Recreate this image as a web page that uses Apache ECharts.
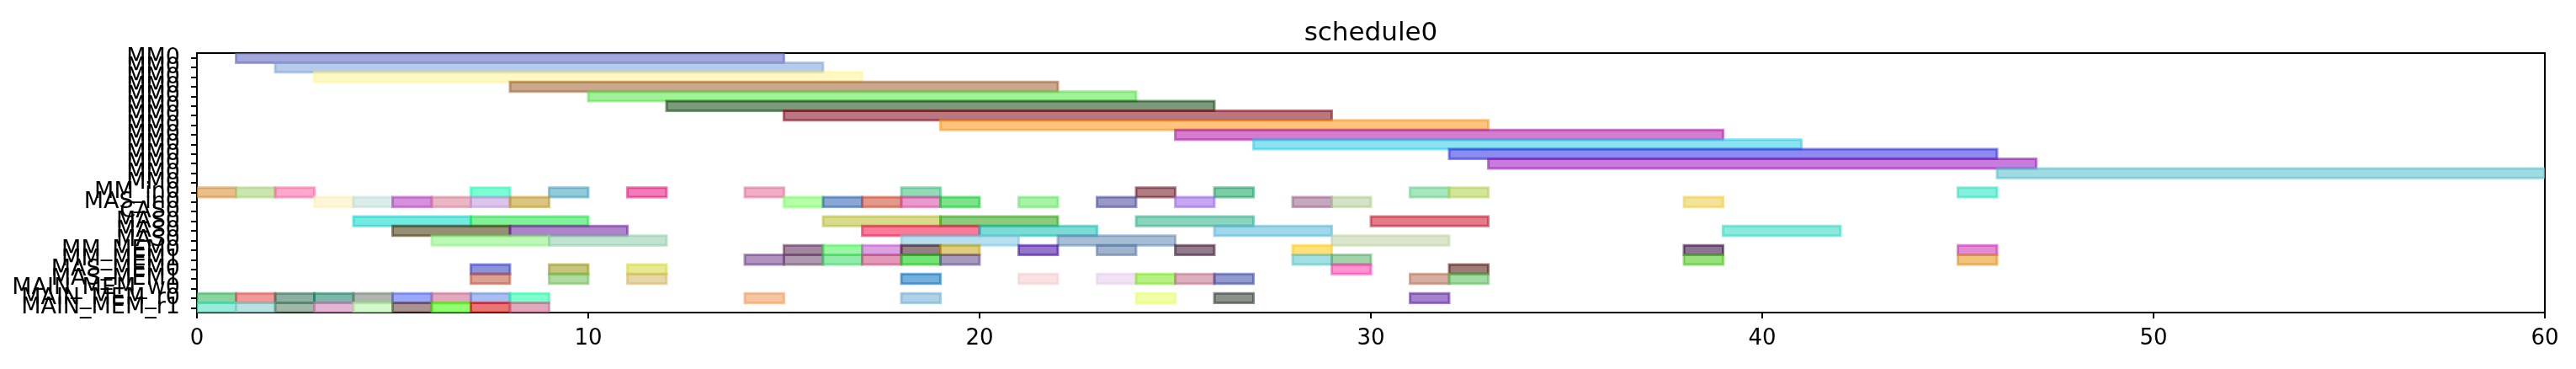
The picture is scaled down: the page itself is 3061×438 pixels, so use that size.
<!DOCTYPE html>
<html>
<head>
<meta charset="utf-8">
<script src="https://cdn.jsdelivr.net/npm/echarts@6/dist/echarts.min.js"></script>
<style>
  html, body { margin: 0; padding: 0; background: #fff; }
  #chart { width: 3061px; height: 438px; }
</style>
</head>
<body>
<div id="chart"></div>
<script>
// y tick labels, top row first
const rowLabels = [
  'MM0', 'MM0', 'MM0', 'MM0', 'MM0', 'MM0', 'MM0', 'MM0', 'MM0', 'MM0', 'MM0', 'MM0', 'MM0', 'MM0',
  'MM_in0', 'MAS_in0', 'CAS0', 'MAS0', 'MAS0', 'MAS0',
  'MM_MEM0', 'MM_MEM1', 'MAS_MEM0', 'MAS_MEM1',
  'MAIN_MEM_w0', 'MAIN_MEM_r0', 'MAIN_MEM_r1'
];
const xTicks = [0, 10, 20, 30, 40, 50, 60];

// task start / end times, one list per row
const taskStart = [
  [1], [2], [3], [8], [10], [12], [15], [19], [25], [27], [32], [33], [46], [],
  [0, 1, 2, 7, 9, 11, 14, 18, 24, 26, 31, 32, 45],
  [3, 4, 5, 6, 7, 8, 15, 16, 17, 18, 19, 21, 23, 25, 28, 29, 38],
  [],
  [4, 7, 16, 19, 24, 30],
  [5, 8, 17, 20, 26, 39],
  [6, 9, 18, 22, 29],
  [15, 16, 17, 18, 19, 21, 23, 25, 28, 38, 45],
  [14, 15, 16, 17, 18, 19, 28, 29, 38, 45],
  [7, 9, 11, 29, 32],
  [7, 9, 11, 18, 21, 23, 24, 25, 26, 31, 32],
  [],
  [0, 1, 2, 3, 4, 5, 6, 7, 8, 14, 18, 24, 26, 31],
  [0, 1, 2, 3, 4, 5, 6, 7, 8]
];
const taskEnd = [
  [15], [16], [17], [22], [24], [26], [29], [33], [39], [41], [46], [47], [60], [],
  [1, 2, 3, 8, 10, 12, 15, 19, 25, 27, 32, 33, 46],
  [4, 5, 6, 7, 8, 9, 16, 17, 18, 19, 20, 22, 24, 26, 29, 30, 39],
  [],
  [7, 10, 19, 22, 27, 33],
  [8, 11, 20, 23, 29, 42],
  [9, 12, 21, 25, 32],
  [16, 17, 18, 19, 20, 22, 24, 26, 29, 39, 46],
  [15, 16, 17, 18, 19, 20, 29, 30, 39, 46],
  [8, 10, 12, 30, 33],
  [8, 10, 12, 19, 22, 24, 25, 26, 27, 32, 33],
  [],
  [1, 2, 3, 4, 5, 6, 7, 8, 9, 15, 19, 25, 27, 32],
  [1, 2, 3, 4, 5, 6, 7, 8, 9]
];

// bar colours (drawn half transparent), same layout as above
const taskColor = [
  ['#5a61bf'], ['#7ba3d9'], ['#fff396'], ['#9d6132'], ['#53e646'], ['#114611'], ['#800a1a'],
  ['#ff9611'], ['#b510a8'], ['#2bcbe6'], ['#2b2be6'], ['#9a10c0'], ['#53becb'], [],
  ['#d98a2b', '#a3d26e', '#ff61a3', '#11ffb1', '#39a3be', '#e6117b', '#e66b97', '#39be7b', '#6e111e', '#11a361', '#61d289', '#b1d246', '#1ee6be'],
  ['#fceeb9', '#bedcd9', '#b139be', '#d97b96', '#be96d9', '#be961e', '#7bff61', '#2b61b1', '#cb462b', '#d946a3', '#11cb2b', '#61e661', '#464696', '#9661e6', '#966189', '#b1cb96', '#edcb46'],
  [],
  ['#03d9cb', '#1ee646', '#b7be2b', '#2ba311', '#2bb189', '#cb112b'],
  ['#3f3203', '#6e1ea3', '#f31146', '#11beb1', '#53b7d9', '#2bd9be'],
  ['#89f37b', '#8fcbaa', '#7bc5df', '#6189b1', '#bed2a3'],
  ['#5a2553', '#46f353', '#be53cb', '#3f171e', '#c5a311', '#3f03a3', '#5375a3', '#39112b', '#ffcb11', '#2b0339', '#cb2bb1'],
  ['#6e3989', '#6e466e', '#39d961', '#cb467b', '#03cb03', '#614689', '#53c5cb', '#53b161', '#46c511', '#e68f11'],
  ['#2b39be', '#969611', '#d2d939', '#ff39aa', '#4d1103'],
  ['#be5339', '#6ebe53', '#d2b761', '#036ebe', '#f3cbcb', '#e6cbed', '#7be61e', '#be6e89', '#3946a3', '#b76e53', '#53be53'],
  [],
  ['#2bb153', '#e64646', '#2b6e53', '#117b61', '#6e7b6e', '#4661f3', '#cb6189', '#6189e6', '#11ffa3', '#f39653', '#6eaad2', '#e6ff61', '#2b392b', '#5a1ea3'],
  ['#46d9be', '#7bcbcb', '#537b61', '#cb7bb1', '#b1f3a3', '#613939', '#39ff00', '#d90303', '#cb6189']
];

function rgba(hex, a) {
  const n = parseInt(hex.slice(1), 16);
  return 'rgba(' + (n >> 16) + ',' + ((n >> 8) & 255) + ',' + (n & 255) + ',' + a + ')';
}

const taskData = [];
const barColors = [];
taskStart.forEach(function (starts, row) {
  starts.forEach(function (s, i) {
    taskData.push([row, s, taskEnd[row][i]]);
    barColors.push(taskColor[row][i]);
  });
});

const font = 'DejaVu Sans';
const chart = echarts.init(document.getElementById('chart'));

chart.setOption({
  animation: false,
  backgroundColor: '#fff',
  title: {
    text: 'schedule0',
    left: 1629,
    top: 24,
    textAlign: 'center',
    padding: 0,
    textStyle: { fontFamily: font, fontSize: 31, fontWeight: 'normal', color: '#000' }
  },
  grid: {
    left: 234, right: 37, top: 63, bottom: 67,
    show: true, borderColor: '#000', borderWidth: 2, backgroundColor: 'transparent'
  },
  xAxis: {
    type: 'value',
    min: xTicks[0],
    max: xTicks[xTicks.length - 1],
    interval: 10,
    splitLine: { show: false },
    axisLine: { show: true, lineStyle: { color: '#000', width: 2 } },
    axisTick: { show: true, length: 7, lineStyle: { color: '#000', width: 2 } },
    axisLabel: {
      fontFamily: font, fontSize: 26, color: '#000', margin: 18,
      showMinLabel: true, showMaxLabel: true,
      customValues: xTicks
    }
  },
  yAxis: {
    type: 'category',
    inverse: true,
    data: rowLabels.map(function (_, i) { return 'r' + i; }),
    boundaryGap: true,
    axisLine: { show: true, lineStyle: { color: '#000', width: 2 } },
    axisTick: { show: true, alignWithLabel: true, interval: 0, length: 7, lineStyle: { color: '#000', width: 2 } },
    axisLabel: {
      interval: 0, fontFamily: font, fontSize: 27, color: '#000', margin: 20,
      formatter: function (v, i) { return rowLabels[i]; }
    },
    splitLine: { show: false }
  },
  series: [{
    type: 'custom',
    clip: true,
    encode: { x: [1, 2], y: 0 },
    data: taskData,
    renderItem: function (params, api) {
      const row = api.value(0);
      const p0 = api.coord([api.value(1), row]);
      const p1 = api.coord([api.value(2), row]);
      const h = api.size([0, 1])[1];
      const c = barColors[params.dataIndex];
      return {
        type: 'rect',
        shape: { x: p0[0], y: p0[1] - h / 2, width: p1[0] - p0[0], height: h },
        style: { fill: rgba(c, 0.55), stroke: rgba(c, 0.55), lineWidth: 3 }
      };
    }
  }]
});
</script>
</body>
</html>
